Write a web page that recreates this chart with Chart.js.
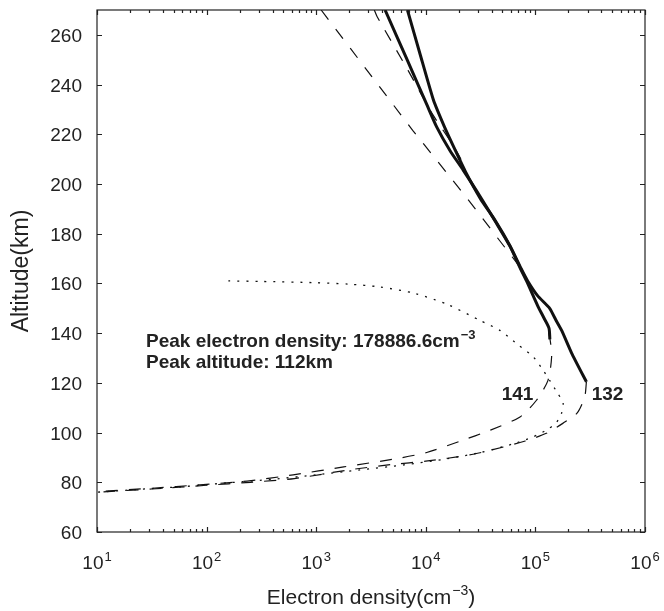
<!DOCTYPE html>
<html>
<head>
<meta charset="utf-8">
<script src="https://cdn.jsdelivr.net/npm/chart.js@4"></script>
<style>
  html, body { margin: 0; padding: 0; background: #fff; }
  #wrap { width: 664px; height: 611px; }
</style>
</head>
<body>
<div id="wrap"><canvas id="density" width="664" height="611"></canvas></div>
<script>
// values: electron density (cm^-3) against altitude (km)

// orbit 141, measured part (solid)
const alt141 = [270, 250, 232, 223, 213.5, 205.5, 195, 185, 175, 166, 161, 151, 146, 142, 137.5]
const ne141 = [4250, 6750, 10200, 12560, 16600, 22000, 31300, 43000, 58500, 73000, 83000, 105000, 120000, 133000, 135500]

// orbit 132, measured part (solid)
const alt132 = [270, 252, 234, 223, 213.5, 205, 194, 185.5, 175, 166, 161, 155, 150, 145, 141, 132, 120.4]
const ne132 = [6800, 8900, 11700, 14800, 18600, 23000, 31600, 42700, 58900, 74000, 85000, 105000, 135000, 155000, 174000, 214000, 292000]

// orbit 141, fitted profile (dashed)
const alt141Fit = [270, 267.4, 245.7, 228.4, 216.3, 210, 205, 195, 185, 175, 166, 161, 151, 144, 137.5, 130.5, 121, 113, 106.3, 101, 96.5, 92, 89.5, 86.2, 83, 80.5, 79, 77.6, 76.3]
const ne141Fit = [3390, 3590, 6890, 11400, 17300, 20900, 22900, 31000, 43000, 58500, 73000, 83000, 105000, 125000, 136000, 140600, 130300, 102300, 72400, 38900, 20400, 10200, 5370, 1780, 617, 234, 87, 32, 10]

// orbit 132, fitted profile below the data (dashed)
const alt132Fit = [120.4, 114.4, 107.8, 103.7, 99.7, 96.5, 93, 91, 88.5, 87.2, 85, 81.5, 80, 78.8, 77.3, 76]
const ne132Fit = [292000, 281800, 239900, 177800, 125900, 79400, 39800, 25100, 10000, 5010, 2000, 631, 251, 100, 31.6, 10]

// topside fit (straight dashed)
const altTop = [270, 221.6, 196.3, 166]
const neTop = [1110, 7590, 21900, 74100]

// model profile (dotted), peak 178886.6 cm^-3 at 112 km
const altModel = [161, 160.8, 160.3, 159.7, 158.6, 156, 151.5, 145, 141, 135, 130.5, 124.5, 121, 116, 112, 108, 104, 101, 98.3, 95.5, 92, 89.5, 87, 85, 83, 81.2, 79.8, 78.3, 77.2, 76]
const neModel = [158, 316, 1000, 1995, 3800, 7940, 15850, 31600, 47900, 70800, 95500, 120000, 135000, 158500, 178886.6, 173800, 154900, 125900, 95500, 63100, 31600, 15850, 6310, 2510, 1000, 398, 158, 63, 25, 10]

// axes
const yTicks = [60, 80, 100, 120, 140, 160, 180, 200, 220, 240, 260]
const xDecades = [10, 100, 1000, 10000, 100000, 1000000]
const xExponents = ['1', '2', '3', '4', '5', '6']

const FONT = "'Liberation Sans', Arial, Helvetica, sans-serif"
const INK = '#222'

const pts = (xs, ys) => xs.map((v, i) => ({ x: v, y: ys[i] }))

const line = (label, xs, ys, extra) =>
  Object.assign(
    {
      label: label,
      data: pts(xs, ys),
      showLine: true,
      borderColor: '#111',
      borderWidth: 1.2,
      pointRadius: 0,
      tension: 0.25,
      fill: false,
    },
    extra
  )

// draws "base" then a raised smaller "sup", starting at sx
const supText = (ctx, base, sup, sx, by, size, supSize, bold) => {
  const w = bold ? 'bold ' : ''
  ctx.font = w + size + 'px ' + FONT
  ctx.fillText(base, sx, by)
  const wb = ctx.measureText(base).width
  ctx.font = w + supSize + 'px ' + FONT
  ctx.fillText(sup, sx + wb + 1, by - size * 0.42)
  return wb + 1 + ctx.measureText(sup).width
}

// frame, inward ticks, labels and annotations
const framePlugin = {
  id: 'frame',
  afterDraw(chart) {
    const { ctx, chartArea: a, scales } = chart
    const x = scales.x
    const y = scales.y
    ctx.save()
    ctx.strokeStyle = INK
    ctx.lineWidth = 1.2
    ctx.strokeRect(a.left, a.top, a.right - a.left, a.bottom - a.top)

    ctx.beginPath()
    yTicks.forEach(v => {
      const py = Math.round(y.getPixelForValue(v)) + 0.5
      ctx.moveTo(a.left, py)
      ctx.lineTo(a.left + 5, py)
      ctx.moveTo(a.right, py)
      ctx.lineTo(a.right - 5, py)
    })
    xDecades.forEach(d => {
      for (let m = 1; m <= 9; m++) {
        const v = d * m
        if (v > 1000000) break
        const px = Math.round(x.getPixelForValue(v)) + 0.5
        const len = m === 1 ? 5 : 3
        ctx.moveTo(px, a.bottom)
        ctx.lineTo(px, a.bottom - len)
        ctx.moveTo(px, a.top)
        ctx.lineTo(px, a.top + len)
      }
    })
    ctx.stroke()

    ctx.fillStyle = INK
    ctx.textBaseline = 'alphabetic'

    // y tick labels
    ctx.font = '19px ' + FONT
    ctx.textAlign = 'right'
    yTicks.forEach(v => {
      ctx.fillText(String(v), a.left - 15, y.getPixelForValue(v) + 7)
    })

    // x tick labels: 10 with raised exponent
    ctx.textAlign = 'left'
    xDecades.forEach((d, i) => {
      const px = x.getPixelForValue(d)
      ctx.font = '19px ' + FONT
      const w1 = ctx.measureText('10').width
      ctx.font = '13px ' + FONT
      const w2 = ctx.measureText(xExponents[i]).width
      const start = px - (w1 + 1 + w2) / 2
      supText(ctx, '10', xExponents[i], start, a.bottom + 36.5, 19, 13, false)
    })

    // x axis title
    ctx.font = '21px ' + FONT
    const wa = ctx.measureText('Electron density(cm').width
    ctx.font = '14px ' + FONT
    const wb = ctx.measureText('\u22123').width
    ctx.font = '21px ' + FONT
    const wc = ctx.measureText(')').width
    const sx = (a.left + a.right) / 2 - (wa + 1 + wb + wc) / 2
    const used = supText(ctx, 'Electron density(cm', '\u22123', sx, a.bottom + 72, 21, 14, false)
    ctx.font = '21px ' + FONT
    ctx.fillText(')', sx + used, a.bottom + 72)

    // y axis title
    ctx.save()
    ctx.translate(28, (a.top + a.bottom) / 2)
    ctx.rotate(-Math.PI / 2)
    ctx.textAlign = 'center'
    ctx.font = '23px ' + FONT
    ctx.fillText('Altitude(km)', 0, 0)
    ctx.restore()

    // annotations
    ctx.textAlign = 'left'
    const ax = x.getPixelForValue(28)
    supText(ctx, 'Peak electron density: 178886.6cm', '\u22123', ax, y.getPixelForValue(137.1) + 6.8, 19, 13, true)
    ctx.font = 'bold 19px ' + FONT
    ctx.fillText('Peak altitude: 112km', ax, y.getPixelForValue(128.7) + 6.8)

    ctx.textAlign = 'center'
    ctx.fillText('141', x.getPixelForValue(68700), y.getPixelForValue(115.9) + 6.8)
    ctx.fillText('132', x.getPixelForValue(455000), y.getPixelForValue(115.7) + 6.8)
    ctx.restore()
  },
}

const ctxDensity = document.getElementById('density').getContext('2d')

const densityChart = new Chart(ctxDensity, {
  type: 'scatter',
  data: {
    datasets: [
      line('141 observed', ne141, alt141, { borderWidth: 3 }),
      line('132 observed', ne132, alt132, { borderWidth: 3, tension: 0.15 }),
      line('141 fit', ne141Fit, alt141Fit, { borderDash: [12, 11] }),
      line('132 fit', ne132Fit, alt132Fit, { borderDash: [12, 11] }),
      line('topside fit', neTop, altTop, { borderDash: [12, 12], tension: 0 }),
      line('model', neModel, altModel, { borderDash: [2, 7], borderWidth: 1.3 }),
    ],
  },
  options: {
    responsive: false,
    animation: false,
    layout: { padding: { left: 97, right: 19, top: 10, bottom: 79 } },
    plugins: {
      legend: { display: false },
      tooltip: { enabled: false },
    },
    scales: {
      x: {
        type: 'logarithmic',
        min: 10,
        max: 1000000,
        ticks: { display: false },
        grid: { display: false },
        border: { display: false },
        afterFit: s => {
          s.height = 0
        },
      },
      y: {
        type: 'linear',
        min: 60,
        max: 270,
        ticks: { display: false },
        grid: { display: false },
        border: { display: false },
        afterFit: s => {
          s.width = 0
        },
      },
    },
  },
  plugins: [framePlugin],
})
</script>
</body>
</html>
